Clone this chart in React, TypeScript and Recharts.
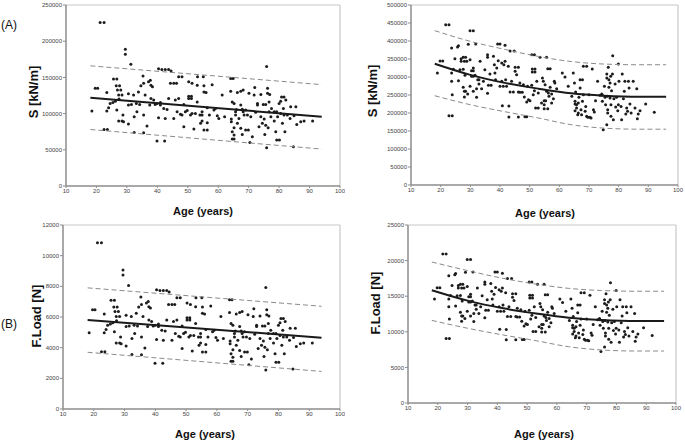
import React from 'react';
import { ScatterChart, Scatter, XAxis, YAxis, ReferenceLine } from 'recharts';

const ageTicks = [10, 20, 30, 40, 50, 60, 70, 80, 90, 100];
const leftStiffTicks = [0, 50000, 100000, 150000, 200000, 250000];
const rightStiffTicks = [0, 50000, 100000, 150000, 200000, 250000, 300000, 350000, 400000, 450000, 500000];
const leftLoadTicks = [0, 2000, 4000, 6000, 8000, 10000, 12000];
const rightLoadTicks = [0, 5000, 10000, 15000, 20000, 25000];

const leftAges = [
  18.5,19.6,20.4,21.2,22.5,22.5,23.6,23.4,23.4,24.0,
  24.5,25.4,25.6,26.7,26.2,26.7,26.5,27.6,26.9,28.0,
  27.3,28.4,27.4,27.3,28.4,28.9,28.7,29.5,29.5,30.5,
  30.5,30.5,31.3,31.5,32.2,32.4,32.4,33.1,33.3,33.8,
  34.2,34.6,35.3,35.5,35.5,36.0,35.5,36.6,37.1,37.5,
  37.7,37.9,38.4,37.9,38.8,39.3,39.9,40.4,41.0,40.4,
  41.5,42.6,43.7,44.5,39.9,42.4,41.0,42.1,42.6,43.2,
  43.7,44.3,45.4,46.3,45.4,45.9,46.5,47.0,47.0,48.1,
  47.6,48.1,48.7,48.7,49.2,49.8,50.3,50.3,51.2,51.2,
  50.3,51.4,50.9,51.4,52.0,52.5,53.1,53.1,53.2,54.0,
  54.2,54.7,54.7,54.7,55.1,55.3,55.3,56.4,55.3,56.0,
  56.4,56.4,57.1,58.0,58.6,59.1,59.7,60.2,61.3,62.1,
  64.1,64.9,64.1,64.3,64.3,64.6,65.2,64.6,64.6,65.2,
  65.2,65.2,65.7,66.0,65.7,66.3,66.8,66.3,67.4,67.4,
  67.4,67.9,67.9,68.2,68.2,68.5,69.0,69.0,69.9,69.6,
  70.1,70.4,70.7,71.2,71.8,72.0,72.3,72.9,72.9,73.4,
  74.0,74.0,74.5,74.8,75.6,75.1,75.3,75.6,75.9,75.9,
  76.2,76.2,76.4,76.7,76.7,76.9,77.3,77.5,78.4,79.2,
  78.4,78.9,79.2,80.1,79.5,80.0,80.5,80.5,80.8,81.6,
  81.1,81.4,81.6,81.9,82.2,82.7,83.6,83.8,84.9,85.5,
  85.8,84.7,87.1,88.2,91.0,
];

const leftStiffness = [
  103500,135000,135000,226000,226000,78000,78000,129000,103500,108000,
  114000,115500,147700,147700,117000,105000,138500,138500,132500,132500,
  125600,125600,120000,89700,89700,88800,98000,189000,182000,112000,
  127400,85600,168000,112700,125600,95700,74000,114000,102600,130000,
  112700,138500,152000,142000,98000,125600,73600,83000,144000,112000,
  146000,139000,137000,121000,118700,112700,114000,94300,112000,162000,
  161000,161000,161000,159000,62000,62000,115500,107000,93400,105800,
  121000,142000,142000,142000,93400,118700,102600,121000,151000,151000,
  99000,98000,82000,112700,102600,104400,121000,124000,124000,121000,
  144000,142000,98000,100000,78700,100000,116000,139000,151000,98000,
  86500,98000,102600,89700,151000,138500,77300,77300,130000,129000,
  87400,108000,98000,140000,105000,107000,97000,93400,125600,95700,
  148600,148600,131000,88800,92500,116000,114000,75000,65000,65000,
  70400,80500,102600,105800,98000,86500,93400,129000,131000,79600,
  112000,106000,71300,102600,132500,98000,105000,77300,77300,98000,
  128000,60000,95700,68000,125600,136000,101700,114000,112000,82000,
  126500,95700,86500,112700,112700,92500,71300,84000,165000,53000,
  128000,135000,80500,102600,116000,126500,95700,107000,102600,102600,
  89700,75000,63500,63500,95700,114000,117000,100000,123000,123000,
  86500,107000,98000,75000,118700,98000,93400,109500,97000,109500,
  85000,54300,88800,89700,89700,
];

const leftLoad = [
  4970,6480,6480,10850,10850,3740,3740,6190,4970,5180,
  5470,5540,7090,7090,5620,5040,6650,6650,6360,6360,
  6030,6030,5760,4310,4310,4260,4700,9070,8740,5380,
  6120,4110,8060,5410,6030,4590,3550,5470,4920,6240,
  5410,6650,7300,6820,4700,6030,3530,3980,6910,5380,
  7010,6670,6580,5810,5700,5410,5470,4530,5380,7780,
  7730,7730,7730,7630,2980,2980,5540,5140,4480,5080,
  5810,6820,6820,6820,4480,5700,4920,5810,7250,7250,
  4750,4700,3940,5410,4920,5010,5810,5950,5950,5810,
  6910,6820,4700,4800,3780,4800,5570,6670,7250,4700,
  4150,4700,4920,4310,7250,6650,3710,3710,6240,6190,
  4200,5180,4700,6720,5040,5140,4660,4480,6030,4590,
  7130,7130,6290,4260,4440,5570,5470,3600,3120,3120,
  3380,3860,4920,5080,4700,4150,4480,6190,6290,3820,
  5380,5090,3420,4920,6360,4700,5040,3710,3710,4700,
  6140,2880,4590,3260,6030,6530,4880,5470,5380,3940,
  6070,4590,4150,5410,5410,4440,3420,4030,7920,2540,
  6140,6480,3860,4920,5570,6070,4590,5140,4920,4920,
  4310,3600,3050,3050,4590,5470,5620,4800,5900,5900,
  4150,5140,4700,3600,5700,4700,4480,5260,4660,5260,
  4080,2610,4260,4310,4310,
];

const rightAges = [
  18.9,19.8,20.7,21.7,22.8,22.8,23.9,23.7,23.7,23.7,
  23.9,24.3,24.8,25.7,26.0,26.0,26.5,26.9,27.6,28.4,
  26.9,28.0,28.8,27.6,27.6,28.0,28.0,28.2,28.4,29.1,
  29.3,29.9,31.0,29.9,29.9,30.4,31.0,30.4,31.0,31.0,
  31.0,31.6,31.8,32.1,32.1,32.5,32.9,32.9,33.3,33.8,
  34.4,34.9,35.8,35.8,35.8,36.1,36.6,37.0,37.8,38.1,
  38.3,38.5,38.9,39.2,40.0,39.4,40.0,40.6,40.6,40.8,
  41.1,41.3,41.7,41.7,41.9,42.2,42.8,43.0,43.0,43.4,
  43.4,44.8,43.9,44.5,45.1,46.2,45.1,45.6,46.2,46.7,
  46.7,46.2,47.5,47.9,48.2,48.4,49.0,49.0,49.3,49.6,
  50.1,50.7,51.6,50.7,50.9,51.8,50.9,51.8,51.2,51.6,
  52.0,52.9,52.4,52.9,53.5,54.0,54.3,54.6,54.9,55.4,
  54.9,56.1,54.9,55.2,55.7,55.7,56.1,56.9,56.3,56.5,
  56.9,57.4,57.4,58.0,58.3,58.5,59.1,61.0,61.9,63.0,
  64.2,64.7,65.1,65.3,65.3,65.3,65.5,65.8,65.8,66.2,
  66.4,66.4,66.6,67.0,67.8,67.0,67.3,67.5,67.8,68.1,
  69.2,68.1,68.7,68.9,69.2,69.6,70.0,70.3,70.7,71.1,
  71.5,71.8,72.2,72.9,73.7,74.5,74.3,74.5,74.8,75.2,
  75.4,75.6,76.0,76.0,76.0,76.2,76.3,76.3,76.5,76.7,
  76.7,77.1,77.1,77.3,77.4,77.4,77.6,77.9,78.0,78.2,
  78.4,78.8,79.0,79.3,79.7,79.9,79.9,80.1,80.8,81.0,
  81.2,81.6,81.9,82.1,82.4,82.7,83.0,83.3,83.5,83.8,
  84.2,84.9,85.5,86.1,86.3,86.6,87.2,89.1,92.0,
];

const rightStiffness = [
  311100,344400,344400,445300,445300,192500,192500,380500,311100,287900,
  250900,321200,350900,383300,387000,289800,320300,350900,354600,354600,
  343500,343500,343500,321200,271200,244400,260100,304600,260100,252700,
  390700,428700,428700,348100,274000,317500,317500,301800,301800,324900,
  260100,304600,391600,267500,243500,292500,292500,280500,343500,267500,
  287900,320300,362000,354600,254600,276800,308300,276800,357400,334200,
  311100,292500,324900,391600,391600,345300,274000,338800,287900,220300,
  274000,334200,387900,343500,292500,274000,329600,219400,188800,258300,
  372200,372200,287900,258300,326800,326800,315700,306400,258300,257300,
  283300,188800,257300,278600,244400,189700,189700,230500,274000,237000,
  234200,362000,362000,276800,322200,322200,313800,313800,250900,262000,
  213800,213800,287900,255500,354600,227700,297200,287900,234200,234200,
  212000,212000,223100,278600,260100,354600,323100,323100,255500,246200,
  271200,252700,227700,239700,287900,283300,267500,311100,300000,274000,
  246200,311100,283300,232300,224900,206400,258300,223100,213800,195300,
  227700,199900,243500,292500,292500,269400,209200,195300,232300,329600,
  329600,250900,204600,218400,190700,187900,250900,187900,186000,322200,
  209200,202700,234200,287900,249000,249000,252700,232300,153600,274000,
  243500,223100,308300,297200,167500,246200,209200,199900,326800,271200,
  292500,241600,283300,301800,223100,190700,262000,308300,359200,181400,
  239700,280500,216600,243500,206400,223100,336000,287900,218400,181400,
  308300,239700,260100,287900,197200,213800,204600,287900,269400,224900,
  199900,287900,213800,267500,184200,197200,206400,224900,201800,
];

const rightLoad = [
  14620,16190,16190,20930,20930,9050,9050,17880,14620,13530,
  11790,15100,16490,18020,18190,13620,15050,16490,16670,16670,
  16140,16140,16140,15100,12750,11490,12220,14320,12220,11880,
  18360,20150,20150,16360,12880,14920,14920,14180,14180,15270,
  12220,14320,18410,12570,11440,13750,13750,13180,16140,12570,
  13530,15050,17010,16670,11970,13010,14490,13010,16800,15710,
  14620,13750,15270,18410,18410,16230,12880,15920,13530,10350,
  12880,15710,18230,16140,13750,12880,15490,10310,8870,12140,
  17490,17490,13530,12140,15360,15360,14840,14400,12140,12090,
  13320,8870,12090,13090,11490,8920,8920,10830,12880,11140,
  11010,17010,17010,13010,15140,15140,14750,14750,11790,12310,
  10050,10050,13530,12010,16670,10700,13970,13530,11010,11010,
  9960,9960,10490,13090,12220,16670,15190,15190,12010,11570,
  12750,11880,10700,11270,13530,13320,12570,14620,14100,12880,
  11570,14620,13320,10920,10570,9700,12140,10490,10050,9180,
  10700,9400,11440,13750,13750,12660,9830,9180,10920,15490,
  15490,11790,9620,10260,8960,8830,11790,8830,8740,15140,
  9830,9530,11010,13530,11700,11700,11880,10920,7220,12880,
  11440,10490,14490,13970,7870,11570,9830,9400,15360,12750,
  13750,11360,13320,14180,10490,8960,12310,14490,16880,8530,
  11270,13180,10180,11440,9700,10490,15790,13530,10260,8530,
  14490,11270,12220,13530,9270,10050,9620,13530,12660,10570,
  9400,13530,10050,12570,8660,9270,9700,10570,9480,
];

const leftFitAges = [18, 94];
const leftStiffFit = [122000, 95700];
const leftStiffUpper = [166000, 140000];
const leftStiffLower = [78000, 51000];
const leftLoadFit = [5800, 4650];
const leftLoadUpper = [7900, 6700];
const leftLoadLower = [3700, 2450];

const rightFitAges = [18, 30, 42, 53, 64, 75, 87, 96];
const rightStiffFit = [337000, 306000, 283000, 267500, 254600, 248000, 245000, 245000];
const rightStiffUpper = [428700, 399000, 376000, 357000, 343000, 336000, 334000, 334000];
const rightStiffLower = [248000, 223000, 203000, 186000, 167500, 158000, 155000, 155000];
const rightLoadFit = [15840, 14380, 13300, 12570, 11970, 11660, 11520, 11520];
const rightLoadUpper = [19800, 18600, 17500, 16700, 16100, 15800, 15700, 15700];
const rightLoadLower = [11600, 10500, 9550, 8750, 7900, 7450, 7300, 7300];

const FONT = 'Arial, "Liberation Sans", Helvetica, sans-serif';

const Dot = (p: any) => <circle cx={p.cx} cy={p.cy} r={1.5} fill="#1c1c1c" />;
const NoDot = () => <g />;

type PanelProps = {
  left: number; top: number; width: number; height: number;
  margin: { top: number; right: number; bottom: number; left: number };
  yWidth: number; xHeight: number; yMax: number; yTicks: number[];
  ages: number[]; values: number[];
  fitAges: number[]; fit: number[]; upper: number[]; lower: number[];
  curved: boolean;
};

function Panel(props: PanelProps) {
  const { left, top, width, height, margin, yWidth, xHeight, yMax, yTicks, ages, values, fitAges, fit, upper, lower, curved } = props;
  const pts = ages.map((a, i) => ({ x: a, y: values[i] }));
  const mk = (arr: number[]) => fitAges.map((a, i) => ({ x: a, y: arr[i] }));
  const joint = curved ? 'monotoneX' : 'linear';
  const tickStyle = { fontSize: 6, fill: '#444', fontFamily: FONT };
  return (
    <div style={{ position: 'absolute', left, top }}>
      <ScatterChart width={width} height={height} margin={margin}>
        <XAxis
          type="number" dataKey="x" domain={[10, 100]} ticks={ageTicks} interval={0}
          height={xHeight} tickSize={2} tickMargin={1} tick={tickStyle}
          axisLine={{ stroke: '#8c8c8c', strokeWidth: 1.5 }} tickLine={{ stroke: '#8c8c8c' }}
        />
        <YAxis
          type="number" dataKey="y" domain={[0, yMax]} ticks={yTicks} interval={0}
          width={yWidth} tickSize={3} tickMargin={1} tick={tickStyle}
          axisLine={{ stroke: '#8c8c8c', strokeWidth: 1.5 }} tickLine={{ stroke: '#8c8c8c' }}
        />
        <ReferenceLine y={yMax} stroke="#c8c8c8" strokeWidth={1.2} />
        <ReferenceLine x={100} stroke="#c8c8c8" strokeWidth={1.2} />
        <Scatter data={pts} shape={Dot} isAnimationActive={false} />
        <Scatter data={mk(upper)} shape={NoDot} line={{ stroke: '#8a8a8a', strokeWidth: 1, strokeDasharray: '5 3' }} lineJointType={joint as any} isAnimationActive={false} />
        <Scatter data={mk(lower)} shape={NoDot} line={{ stroke: '#8a8a8a', strokeWidth: 1, strokeDasharray: '5 3' }} lineJointType={joint as any} isAnimationActive={false} />
        <Scatter data={mk(fit)} shape={NoDot} line={{ stroke: '#1a1a1a', strokeWidth: 2 }} lineJointType={joint as any} isAnimationActive={false} />
      </ScatterChart>
    </div>
  );
}

const titleBase: React.CSSProperties = {
  position: 'absolute', whiteSpace: 'nowrap', fontFamily: FONT, color: '#111', lineHeight: 1,
};

function VTitle({ cx, cy, text }: { cx: number; cy: number; text: string }) {
  return (
    <div style={{ ...titleBase, left: cx, top: cy, fontSize: 13, fontWeight: 'bold', transform: 'translate(-50%, -50%) rotate(-90deg)' }}>{text}</div>
  );
}

function HTitle({ cx, cy, text }: { cx: number; cy: number; text: string }) {
  return (
    <div style={{ ...titleBase, left: cx, top: cy, fontSize: 11, fontWeight: 'bold', transform: 'translate(-50%, -50%)' }}>{text}</div>
  );
}

export default function App() {
  return (
    <div style={{ position: 'absolute', left: 0, top: 0, width: 685, height: 441, background: '#fff', overflow: 'hidden' }}>
      <Panel left={0} top={0} width={345} height={230} margin={{ top: 5, right: 5, bottom: 0, left: 0 }}
        yWidth={66} xHeight={44} yMax={250000} yTicks={leftStiffTicks}
        ages={leftAges} values={leftStiffness} fitAges={leftFitAges} fit={leftStiffFit} upper={leftStiffUpper} lower={leftStiffLower} curved={false} />
      <Panel left={345} top={0} width={340} height={230} margin={{ top: 5, right: 7, bottom: 0, left: 0 }}
        yWidth={66} xHeight={45} yMax={500000} yTicks={rightStiffTicks}
        ages={rightAges} values={rightStiffness} fitAges={rightFitAges} fit={rightStiffFit} upper={rightStiffUpper} lower={rightStiffLower} curved={true} />
      <Panel left={0} top={220} width={345} height={221} margin={{ top: 5, right: 5, bottom: 0, left: 0 }}
        yWidth={63} xHeight={32} yMax={12000} yTicks={leftLoadTicks}
        ages={leftAges} values={leftLoad} fitAges={leftFitAges} fit={leftLoadFit} upper={leftLoadUpper} lower={leftLoadLower} curved={false} />
      <Panel left={345} top={220} width={340} height={221} margin={{ top: 5, right: 9, bottom: 0, left: 0 }}
        yWidth={63} xHeight={38} yMax={25000} yTicks={rightLoadTicks}
        ages={rightAges} values={rightLoad} fitAges={rightFitAges} fit={rightLoadFit} upper={rightLoadUpper} lower={rightLoadLower} curved={true} />

      <div style={{ ...titleBase, left: 1, top: 19, fontSize: 12 }}>(A)</div>
      <div style={{ ...titleBase, left: 1, top: 318, fontSize: 12 }}>(B)</div>

      <VTitle cx={33} cy={92} text="S [kN/m]" />
      <VTitle cx={372} cy={91} text="S [kN/m]" />
      <VTitle cx={36} cy={316} text="F.Load [N]" />
      <VTitle cx={375} cy={303} text="F.Load [N]" />

      <HTitle cx={203} cy={211} text="Age (years)" />
      <HTitle cx={545} cy={213} text="Age (years)" />
      <HTitle cx={205} cy={434} text="Age (years)" />
      <HTitle cx={544} cy={434} text="Age (years)" />
    </div>
  );
}
